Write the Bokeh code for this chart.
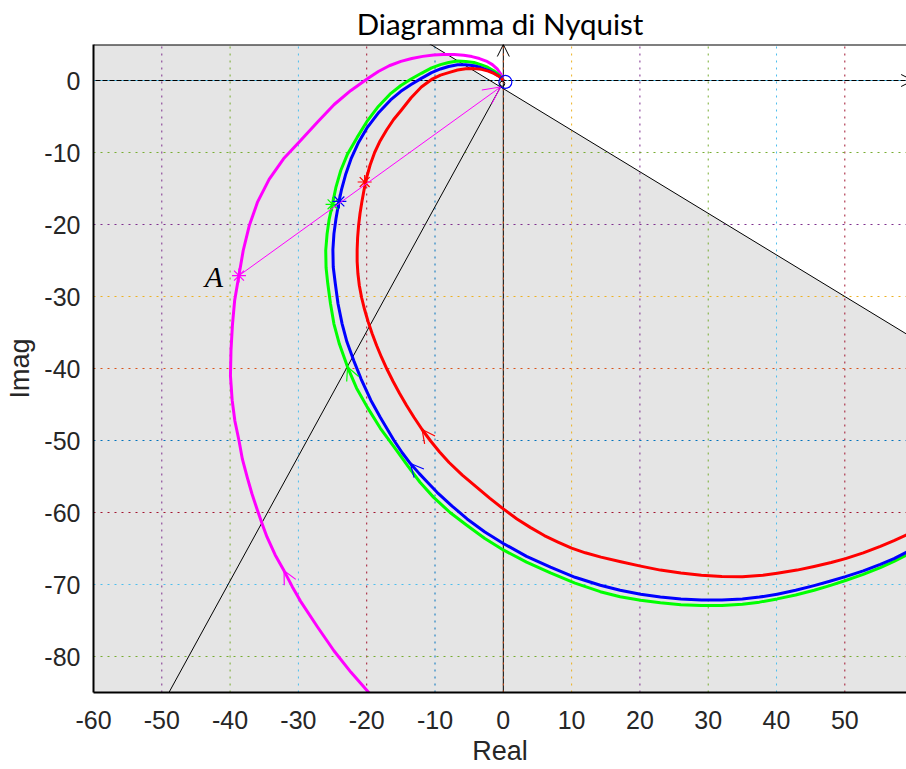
import math
from bokeh.plotting import figure
from bokeh.models import Range1d, FixedTicker, Arrow, OpenHead, Span
from bokeh.core.properties import value
from bokeh.embed import file_html
from bokeh.resources import INLINE

# ---------------- data ----------------
x_ticks = [-60, -50, -40, -30, -20, -10, 0, 10, 20, 30, 40, 50]
x_tick_labels = ["-60", "-50", "-40", "-30", "-20", "-10", "0", "10", "20", "30", "40", "50"]
y_ticks = [-80, -70, -60, -50, -40, -30, -20, -10, 0]
y_tick_labels = ["-80", "-70", "-60", "-50", "-40", "-30", "-20", "-10", "0"]

red_x = [0.0, -0.6, -1.3, -2.2, -3.2, -4.3, -5.5, -6.7, -8.0, -9.2, -10.5, -12.0, -13.5, -15.0,
         -16.06, -17.09, -18.04, -18.84, -19.50, -20.01, -20.38, -20.70, -20.98, -21.19, -21.33,
         -21.40, -21.40, -21.29, -21.08, -20.75, -20.31, -19.80, -19.21, -18.55, -17.82, -17.01,
         -16.13, -15.18, -14.16, -13.06, -11.89, -10.64, -9.33, -7.94, -6.0, -4.0, -2.0, 0.0,
         2.0, 4.0, 6.0, 8.0, 10.0, 12.0, 14.3, 17.2, 20.1, 23.0, 26.0, 29.0, 32.0, 35.0, 38.0,
         40.1, 43.0, 45.5, 48.0, 50.1, 52.7, 55.2, 57.2, 59.5]
red_y = [0.0, 0.55, 0.95, 1.3, 1.55, 1.65, 1.62, 1.45, 1.1, 0.75, 0.15, -0.9, -2.4, -4.2,
         -5.42, -6.88, -8.40, -10.0, -11.74, -13.47, -15.14, -16.81, -18.47, -20.14, -21.81,
         -23.5, -25.14, -26.81, -28.47, -30.14, -31.81, -33.47, -35.14, -36.81, -38.47, -40.14,
         -41.81, -43.47, -45.14, -46.81, -48.47, -50.07, -51.6, -53.06, -54.8, -56.4, -58.0, -59.5,
         -60.9, -62.1, -63.2, -64.1, -64.95, -65.6, -66.2, -66.85, -67.45, -68.0, -68.4, -68.7,
         -68.9, -68.92, -68.7, -68.45, -68.0, -67.5, -66.95, -66.4, -65.6, -64.7, -63.9, -62.9]

blue_x = [0.0, -0.6, -1.4, -2.3, -3.3, -4.3, -5.5, -6.7, -8.0, -9.2, -10.5, -12.0, -13.5, -15.0,
          -16.5, -18.2, -19.9, -21.2, -22.3, -23.1, -23.7, -24.1, -24.5, -24.8, -24.95, -24.9,
          -24.6, -24.2, -23.6, -22.9, -21.9, -20.8, -19.4, -18.0, -16.0, -14.8, -13.6, -12.3,
          -11.0, -9.7, -7.5, -5.3, -2.7, 0.0, 3.4, 6.9, 10.5, 14.2, 17.1, 20.1, 23.0, 26.0, 29.0,
          32.0, 35.0, 37.5, 40.1, 42.8, 45.5, 47.8, 50.1, 52.7, 55.2, 57.2, 59.5]
blue_y = [0.0, 0.6, 1.05, 1.45, 1.8, 2.05, 2.2, 2.2, 1.95, 1.6, 1.1, 0.3, -0.55, -1.5,
          -2.7, -4.4, -6.5, -8.6, -10.9, -13.1, -15.2, -17.0, -19.2, -21.3, -23.5, -25.9,
          -28.2, -31.0, -33.8, -36.3, -38.9, -41.5, -44.4, -46.8, -50.0, -51.7, -53.2, -54.6,
          -55.9, -57.2, -59.1, -60.9, -62.7, -64.3, -66.1, -67.6, -69.0, -70.1, -70.8, -71.35,
          -71.75, -72.0, -72.15, -72.15, -72.0, -71.75, -71.35, -70.8, -70.15, -69.55, -68.9,
          -68.1, -67.2, -66.4, -65.3]

green_x = [0.0, -0.6, -1.4, -2.3, -3.3, -4.3, -5.5, -6.7, -8.0, -9.2, -10.5, -12.0, -13.5, -15.0,
           -16.6, -18.3, -19.9, -21.4, -22.8, -23.8, -24.5, -25.0, -25.5, -25.8, -26.0, -25.95,
           -25.7, -25.3, -24.8, -24.0, -22.8, -21.5, -19.9, -18.0, -16.0, -14.1, -12.2, -10.2,
           -7.8, -5.3, -2.7, 0.0, 3.4, 6.9, 10.5, 14.2, 17.1, 20.1, 23.0, 26.0, 29.0, 32.0, 35.0,
           37.5, 40.1, 42.8, 45.5, 47.8, 50.1, 52.7, 55.2, 57.2, 59.5]
green_y = [0.0, 0.75, 1.35, 1.85, 2.2, 2.5, 2.65, 2.7, 2.5, 2.2, 1.75, 1.0, 0.2, -0.7,
           -1.9, -3.6, -5.6, -7.9, -10.2, -12.5, -14.8, -17.1, -19.3, -21.3, -23.6, -26.0,
           -28.2, -31.0, -33.8, -36.6, -39.8, -42.7, -45.4, -48.3, -50.9, -53.4, -55.8, -57.9,
           -60.0, -61.8, -63.6, -65.2, -66.9, -68.4, -69.8, -71.0, -71.7, -72.2, -72.55, -72.8,
           -72.9, -72.9, -72.75, -72.45, -72.0, -71.45, -70.8, -70.15, -69.45, -68.6, -67.65,
           -66.8, -65.7]

magenta_x = [0.0, -0.35, -0.9, -1.6, -2.5, -3.5, -4.6, -5.8, -7.2, -8.8, -10.2, -11.8, -13.4,
             -15.0, -16.7, -18.3, -19.9, -22.36, -24.76, -27.19, -29.68, -32.18, -34.29, -35.97,
             -37.2, -38.08, -38.71, -39.33, -39.66, -39.87, -39.95, -39.7, -39.3, -38.7,
             -38.2, -37.5, -36.8, -36.0, -35.3, -34.6, -33.4, -32.1, -30.9, -29.7, -27.2, -24.8,
             -22.3, -19.7, -18.5]
magenta_y = [0.0, 0.85, 1.6, 2.2, 2.7, 3.05, 3.32, 3.5, 3.6, 3.62, 3.55, 3.35, 3.05,
             2.65, 2.05, 1.25, 0.24, -1.42, -3.33, -5.76, -8.33, -10.88, -13.74, -16.85,
             -20.18, -23.61, -27.08, -30.51, -33.97, -37.44, -41.0, -44.4, -47.3, -50.0,
             -52.6, -55.1, -57.4, -59.7, -61.6, -63.4, -65.9, -68.1, -70.3, -72.3, -75.9, -79.2,
             -82.2, -85.0, -86.3]

curve_colors = ["#ff00ff", "#00ff00", "#0000ff", "#ff0000"]   # magenta, green, blue, red
# tips of the direction arrows drawn on each curve
arrow_tip_x = [-32.1, -22.8, -13.6, -11.89]
arrow_tip_y = [-68.1, -39.8, -53.2, -48.47]

# asterisk points on the ray from the origin to A
star_x = [-38.7, -25.0, -24.0, -20.3]
star_y = [-27.1, -17.2, -16.8, -14.1]

# convergence point of the reference lines and their angles (degrees)
p0_x, p0_y = -0.4, -0.9
line_angle_a = 60.0
line_angle_b = -30.0

# small markers at the origin
origin_circle_x, origin_circle_y = [0.3], [-0.2]
origin_dot_x, origin_dot_y = [-0.15], [-0.45]

grid_x_colors = ["#EDB120", "#7E2F8E", "#77AC30", "#4DBEEE", "#A2142F", "#0072BD",
                 "#D95319", "#EDB120", "#7E2F8E", "#77AC30", "#4DBEEE", "#A2142F"]
grid_y_colors = ["#77AC30", "#4DBEEE", "#A2142F", "#0072BD", "#D95319", "#EDB120",
                 "#7E2F8E", "#77AC30", "#4DBEEE"]

X0, X1, Y0, Y1 = -60, 59.03, -85, 5

p = figure(width=906, height=769, x_range=Range1d(X0, X1), y_range=Range1d(Y0, Y1),
           output_backend="svg", toolbar_location=None,
           min_border_left=93, min_border_right=0, min_border_top=44, min_border_bottom=77,
           background_fill_color="white", border_fill_color="white", outline_line_color=None)
p.grid.visible = False

# shaded region (below the -30 deg line)
tb = math.tan(math.radians(line_angle_b))
def yb(x):
    return p0_y + tb * (x - p0_x)
x_top = p0_x + (Y1 - p0_y) / tb
p.patch([X0, x_top, 60, 60, X0], [Y1, Y1, yb(60), Y0, Y0], fill_color="#e5e5e5",
        line_color=None, level="underlay")

# axes lines through the origin
p.segment(x0=[0], y0=[Y0], x1=[0], y1=[Y1], line_color="black", line_width=1)
p.segment(x0=[X0], y0=[0], x1=[60], y1=[0], line_color="black", line_width=1)

# coloured dotted grid
p.multi_line([[t, t] for t in x_ticks], [[Y0, Y1] for t in x_ticks], line_color=grid_x_colors,
             line_width=1, line_dash="2 5")
p.multi_line([[X0, 60] for t in y_ticks], [[t, t] for t in y_ticks], line_color=grid_y_colors,
             line_width=1, line_dash="2 5")

p.add_layout(Arrow(x_start=0, y_start=Y1 - 3, x_end=0, y_end=Y1, line_alpha=0,
                   end=OpenHead(size=12, line_color="black", line_width=1)))
p.add_layout(Arrow(x_start=55, y_start=0, x_end=60, y_end=0, line_alpha=0,
                   end=OpenHead(size=12, line_color="black", line_width=1)))

# reference lines
ta = math.radians(line_angle_a)
p.segment(x0=[p0_x], y0=[p0_y], x1=[p0_x - 120 * math.cos(ta)], y1=[p0_y - 120 * math.sin(ta)],
          line_color="black", line_width=1)
p.segment(x0=[p0_x - 100], y0=[yb(p0_x - 100)], x1=[p0_x + 100], y1=[yb(p0_x + 100)],
          line_color="black", line_width=1)

# curves
curves_x = [magenta_x, green_x, blue_x, red_x]
curves_y = [magenta_y, green_y, blue_y, red_y]
for cx, cy, col in zip(curves_x, curves_y, curve_colors):
    p.line(cx, cy, line_color=col, line_width=3, line_join="round")

# ray from A towards the origin, with arrow head
p.add_layout(Arrow(x_start=star_x[0], y_start=star_y[0], x_end=p0_x, y_end=p0_y,
                   line_color="#ff00ff", line_width=1,
                   end=OpenHead(size=17, line_color="#ff00ff", line_width=1)))

# direction arrows on the curves
for cx, cy, col, tx, ty in zip(curves_x, curves_y, curve_colors, arrow_tip_x, arrow_tip_y):
    k = min(range(len(cx) - 1), key=lambda i: (cx[i] - tx) ** 2 + (cy[i] - ty) ** 2)
    p.add_layout(Arrow(x_start=cx[k + 1], y_start=cy[k + 1], x_end=cx[k], y_end=cy[k], line_alpha=0,
                       end=OpenHead(size=13, line_color=col, line_width=1.2)))

# asterisks
p.scatter(star_x, star_y, marker="asterisk", size=14, line_color=curve_colors, line_width=1.2)

# origin markers
p.scatter(origin_circle_x, origin_circle_y, marker="circle", size=13, fill_color=None,
          line_color="#0000ff", line_width=1.2)
p.scatter(origin_dot_x, origin_dot_y, marker="circle", size=5, fill_color=None,
          line_color="black", line_width=1)

# label A
p.text([star_x[0]], [star_y[0]], text=["A"], x_offset=-16, y_offset=1, text_align="right",
       text_baseline="middle", text_font=value("Liberation Serif"), text_font_style="italic",
       text_font_size="30px", text_color="black")

# top frame line
p.add_layout(Span(location=Y1, dimension="width", line_color="black", line_width=2))

# axes styling
for ax, ticks, labels in ((p.xaxis[0], x_ticks, x_tick_labels), (p.yaxis[0], y_ticks, y_tick_labels)):
    ax.ticker = FixedTicker(ticks=ticks)
    ax.major_label_overrides = {t: l for t, l in zip(ticks, labels)}
    ax.major_tick_line_color = None
    ax.minor_tick_line_color = None
    ax.major_tick_out = 0
    ax.major_tick_in = 0
    ax.minor_tick_out = 0
    ax.minor_tick_in = 0
    ax.axis_line_color = "black"
    ax.axis_line_width = 2
    ax.major_label_text_font = "Liberation Sans"
    ax.major_label_text_font_size = "25px"
    ax.major_label_text_color = "#262626"
    ax.axis_label_text_font = "Liberation Sans"
    ax.axis_label_text_font_size = "27px"
    ax.axis_label_text_font_style = "normal"
    ax.axis_label_text_color = "#262626"
p.xaxis.axis_label = "Real"
p.yaxis.axis_label = "Imag"
p.xaxis.major_label_standoff = 18
p.yaxis.major_label_standoff = 13
p.xaxis.axis_label_standoff = 4
p.yaxis.axis_label_standoff = 6

p.title.text = "Diagramma di Nyquist"
p.title.align = "center"
p.title.offset = 4
p.title.text_font = "Lato"
p.title.text_font_size = "29.5px"
p.title.text_font_style = "normal"
p.title.text_color = "black"
p.title.standoff = 7

open("out.html", "w").write(file_html(p, INLINE))
